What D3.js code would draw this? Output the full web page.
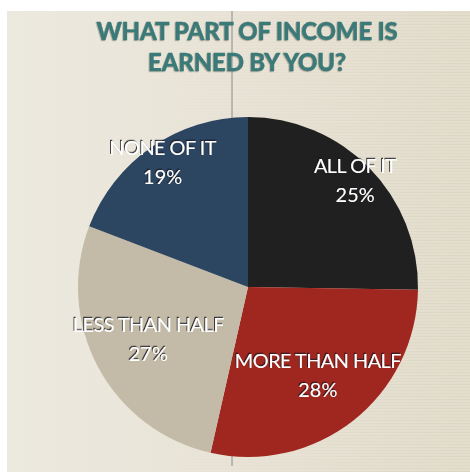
<!DOCTYPE html>
<html>
<head>
<meta charset="utf-8">
<script src="https://cdn.jsdelivr.net/npm/d3@7"></script>
<style>
	body{margin:0;padding:0;background:#ffffff;}
	svg{display:block;}
</style>
</head>
<body>
<div id="chart"></div>
<script>
// data
var categories = ["ALL OF IT", "MORE THAN HALF", "LESS THAN HALF", "NONE OF IT"];
var percents = [25, 28, 27, 19];
var sliceColors = ["#202020", "#a0271f", "#c3bba7", "#2c4560"];
var titleLines = ["WHAT PART OF INCOME IS", "EARNED BY YOU?"];

var width = 470, height = 475;
var cx = 248, cy = 287, radius = 170;

var svg = d3.select("#chart").append("svg")
	.attr("width", width)
	.attr("height", height);

var defs = svg.append("defs");
var bg = defs.append("linearGradient").attr("id", "bg")
	.attr("x1", "0").attr("y1", "0").attr("x2", "1").attr("y2", "0");
bg.append("stop").attr("offset", "0").attr("stop-color", "#ece9df");
bg.append("stop").attr("offset", "0.5").attr("stop-color", "#e8e3d6");
bg.append("stop").attr("offset", "1").attr("stop-color", "#e3ddcd");

// faint horizontal lines on the paper, fading in to the right
var lines = defs.append("pattern").attr("id", "lines")
	.attr("width", 6).attr("height", 3)
	.attr("patternUnits", "userSpaceOnUse");
lines.append("rect").attr("width", 6).attr("height", 1)
	.attr("fill", "#d3ccb9");
var fade = defs.append("linearGradient").attr("id", "fade")
	.attr("x1", "0").attr("y1", "0").attr("x2", "1").attr("y2", "0");
fade.append("stop").attr("offset", "0.3").attr("stop-color", "#000");
fade.append("stop").attr("offset", "1").attr("stop-color", "#fff");
defs.append("mask").attr("id", "fadeMask")
	.append("rect")
	.attr("x", 0).attr("y", 0).attr("width", width).attr("height", height)
	.attr("fill", "url(#fade)");

var shadow = defs.append("filter").attr("id", "txtShadow")
	.attr("x", "-10%").attr("y", "-30%").attr("width", "120%").attr("height", "160%");
shadow.append("feDropShadow")
	.attr("dx", -1).attr("dy", -1.2)
	.attr("stdDeviation", 0.5)
	.attr("flood-color", "#15181f")
	.attr("flood-opacity", 0.85);

var titleShadow = defs.append("filter").attr("id", "titleShadow");
titleShadow.append("feDropShadow")
	.attr("dx", -0.8).attr("dy", 0.8)
	.attr("stdDeviation", 0.4)
	.attr("flood-color", "#6b6048")
	.attr("flood-opacity", 0.45);

// panel
svg.append("rect")
	.attr("x", 7).attr("y", 11)
	.attr("width", width - 7).attr("height", height - 14)
	.attr("fill", "url(#bg)");
svg.append("rect")
	.attr("x", 7).attr("y", 11)
	.attr("width", width - 7).attr("height", height - 14)
	.attr("fill", "url(#lines)")
	.attr("opacity", 0.35)
	.attr("mask", "url(#fadeMask)");

// the thin vertical rule behind the pie
svg.append("line")
	.attr("x1", 232).attr("x2", 232)
	.attr("y1", 11).attr("y2", 466)
	.attr("stroke", "#8a8a8a")
	.attr("stroke-width", 1);

// title
svg.append("g").attr("class", "title")
	.selectAll("text")
	.data(titleLines)
	.enter().append("text")
	.attr("x", 247)
	.attr("y", function(d, i){ return 40 + i * 31; })
	.attr("text-anchor", "middle")
	.attr("font-family", "Lato, 'Open Sans', sans-serif")
	.attr("font-weight", 900)
	.attr("font-size", 24)
	.attr("letter-spacing", -0.2)
	.attr("fill", "#3a7a78")
	.attr("stroke", "#3a7a78")
	.attr("stroke-width", 0.4)
	.attr("filter", "url(#titleShadow)")
	.text(function(d){ return d; });

// pie
var pie = d3.pie().sort(null).value(function(d){ return d; });
var arc = d3.arc().innerRadius(0).outerRadius(radius);
var arcs = pie(percents);

var g = svg.append("g").attr("transform", "translate(" + cx + "," + cy + ")");

g.selectAll("path.slice")
	.data(arcs)
	.enter().append("path")
	.attr("class", "slice")
	.attr("d", arc)
	.attr("fill", function(d, i){ return sliceColors[i]; });

// labels: small slices get their label pushed out towards the rim
var innerLabel = d3.arc().innerRadius(radius * 0.665).outerRadius(radius * 0.665);
var outerLabel = d3.arc().innerRadius(radius * 0.885).outerRadius(radius * 0.885);
var labels = g.selectAll("g.label")
	.data(arcs)
	.enter().append("g")
	.attr("class", "label")
	.attr("transform", function(d){
		var c = (d.data < 26 ? outerLabel : innerLabel).centroid(d);
		return "translate(" + c[0] + "," + c[1] + ")";
	})
	.attr("filter", "url(#txtShadow)");

labels.append("text")
	.attr("text-anchor", "middle")
	.attr("y", -8)
	.attr("font-family", "Lato, 'Open Sans', sans-serif")
	.attr("font-size", 20)
	.attr("letter-spacing", -0.6)
	.attr("fill", "#ffffff")
	.text(function(d, i){ return categories[i]; });

labels.append("text")
	.attr("text-anchor", "middle")
	.attr("y", 21)
	.attr("font-family", "Lato, 'Open Sans', sans-serif")
	.attr("font-size", 20)
	.attr("fill", "#ffffff")
	.text(function(d){ return d.data + "%"; });
</script>
</body>
</html>
